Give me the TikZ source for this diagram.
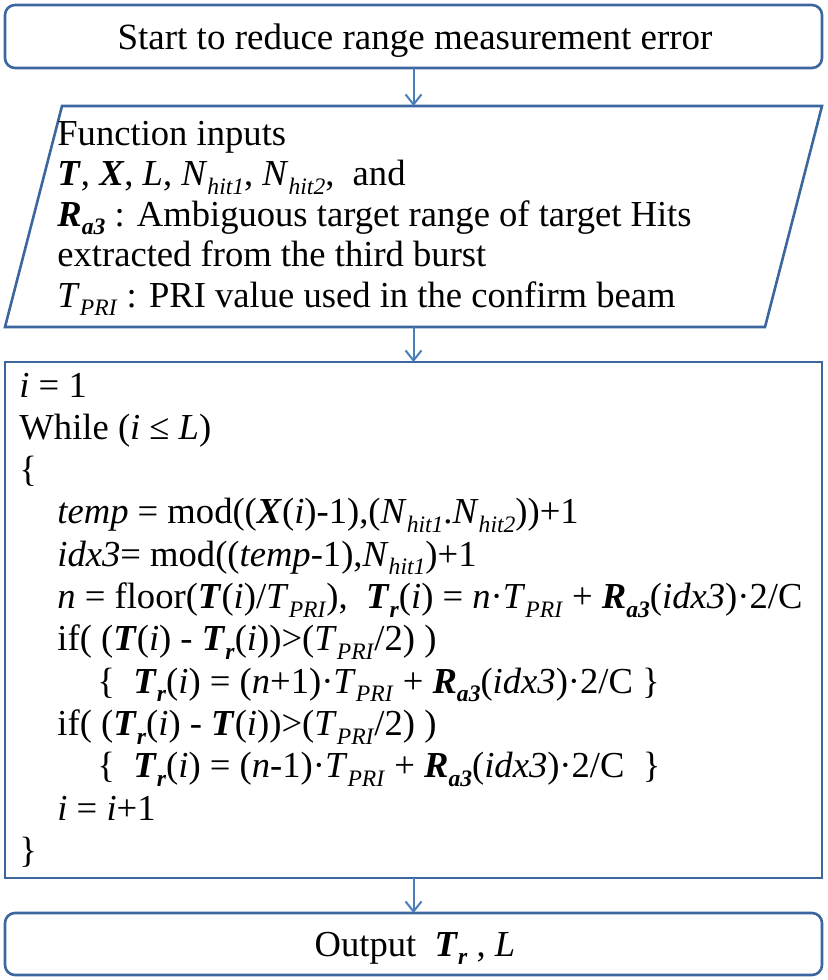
\documentclass[tikz,border=0pt]{standalone}
\usepackage{fontspec}
\setmainfont{Liberation Serif}
\usetikzlibrary{arrows.meta}
\definecolor{bordercol}{HTML}{3C679E}
\definecolor{arrowcol}{HTML}{4A7EBB}
\newcommand\bi[1]{\textbf{\textit{#1}}}
\newcommand\sbs[1]{\raisebox{-0.24em}{\fontsize{11.8}{12}\selectfont #1}}
\begin{document}
\begin{tikzpicture}[x=0.5pt,y=-0.5pt,
  font=\fontsize{18.3}{22}\selectfont,
  boxline/.style={draw=bordercol, line width=1.3pt},
  roundbox/.style={boxline, rounded corners=5pt, minimum width=408.5pt, inner sep=0pt, outer sep=0pt},
  txt/.style={anchor=base west, inner sep=0pt},
  arr/.style={draw=arrowcol, line width=1pt, -{Straight Barb[length=5pt,width=8pt,line width=1pt]}}]
\useasboundingbox (0,0) rectangle (827,980);

% start box
\node[roundbox, minimum height=31.5pt] (start) at (413.5,36.5) {};
\node[anchor=base, inner sep=0pt, font=\fontsize{18.5}{22}\selectfont] (starttxt) at (415,49) {Start to reduce range measurement error};

% input parallelogram
\node[minimum width=408.5pt, minimum height=110.5pt, inner sep=0pt, outer sep=0pt] (inp) at (413.5,216.5) {};
\draw[boxline] ([xshift=28.5pt]inp.north west) -- (inp.north east) -- ([xshift=-28.5pt]inp.south east) -- (inp.south west) -- cycle;
\node[txt] (p1) at (57,145) {Function inputs};
\node[txt] (p2) at (57,185.5) {\bi{T}, \bi{X}, \textit{L}, \textit{N}\sbs{\textit{hit1}}, \textit{N}\sbs{\textit{hit2}},~ and};
\node[txt] (p3) at (57,226) {\bi{R}\sbs{\bi{a3}} : Ambiguous target range of target Hits};
\node[txt] (p4) at (57,266.5) {extracted from the third burst};
\node[txt] (p5) at (57,307) {\textit{T}\sbs{\textit{PRI}} : PRI value used in the confirm beam};

% loop box
\node[boxline, minimum width=408.5pt, minimum height=258pt, inner sep=0pt, outer sep=0pt] (loop) at (413.5,620) {};
\node[txt] (l1) at (19,397) {\textit{i} = 1};
\node[txt] (l2) at (19,439.3) {While (\textit{i} ≤ \textit{L})};
\node[txt] (l3) at (19,481.6) {\{};
\node[txt] (l4) at (57,523.9) {\textit{temp} = mod((\bi{X}(\textit{i})-1),(\textit{N}\sbs{\textit{hit1}}.\textit{N}\sbs{\textit{hit2}}))+1};
\node[txt] (l5) at (57,566.2) {\textit{idx3}= mod((\textit{temp}-1),\textit{N}\sbs{\textit{hit1}})+1};
\node[txt] (l6) at (57,608.5) {\textit{n} = floor(\bi{T}(\textit{i})/\textit{T}\sbs{\textit{PRI}}),~ \bi{T}\sbs{\bi{r}}(\textit{i}) = \textit{n}·\textit{T}\sbs{\textit{PRI}} + \bi{R}\sbs{\bi{a3}}(\textit{idx3})·2/C};
\node[txt] (l7) at (57,650.8) {if( (\bi{T}(\textit{i}) - \bi{T}\sbs{\bi{r}}(\textit{i}))>(\textit{T}\sbs{\textit{PRI}}/2) )};
\node[txt] (l8) at (97,693.1) {\{~ \bi{T}\sbs{\bi{r}}(\textit{i}) = (\textit{n}+1)·\textit{T}\sbs{\textit{PRI}} + \bi{R}\sbs{\bi{a3}}(\textit{idx3})·2/C \}};
\node[txt] (l9) at (57,735.4) {if( (\bi{T}\sbs{\bi{r}}(\textit{i}) - \bi{T}(\textit{i}))>(\textit{T}\sbs{\textit{PRI}}/2) )};
\node[txt] (l10) at (97,777.7) {\{~ \bi{T}\sbs{\bi{r}}(\textit{i}) = (\textit{n}-1)·\textit{T}\sbs{\textit{PRI}} + \bi{R}\sbs{\bi{a3}}(\textit{idx3})·2/C~ \}};
\node[txt] (l11) at (57,820) {\textit{i} = \textit{i}+1};
\node[txt] (l12) at (19,862.3) {\}};

% output box
\node[roundbox, minimum height=31pt] (out) at (413.5,944) {};
\node[anchor=base, inner sep=0pt] (outtxt) at (415,956) {Output~ \bi{T}\sbs{\bi{r}} , \textit{L}};

% connectors
\draw[arr] (start.south) -- (inp.north);
\draw[arr] (inp.south) -- (loop.north);
\draw[arr] (loop.south) -- (out.north);
\end{tikzpicture}
\end{document}
